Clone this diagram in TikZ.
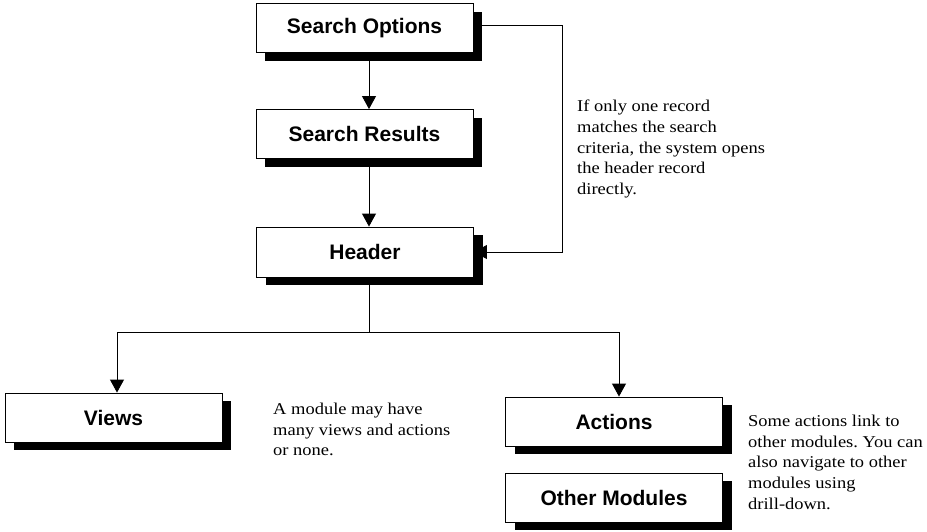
\documentclass[tikz,border=0pt]{standalone}
\usepackage{fontspec}
\setmainfont{Liberation Serif}[FakeStretch=1.12]
\newfontfamily\boxfont{Liberation Sans}
\usetikzlibrary{arrows.meta,shadows}
\frenchspacing
\begin{document}
\begin{tikzpicture}[x=1pt,y=-1pt,
  boxstyle/.style={draw=black, line width=0.9pt, fill=white, inner sep=0pt,
    minimum width=217pt, minimum height=49pt,
    font=\boxfont\bfseries\fontsize{21}{24}\selectfont,
    drop shadow={shadow xshift=9pt, shadow yshift=-8pt, fill=black, opacity=1}},
  note/.style={anchor=north west, inner sep=0pt, align=left,
    font=\frenchspacing\fontsize{16.5}{20.6}\selectfont},
  conn/.style={line width=0.9pt},
  arr/.style={conn, -{Triangle[length=13pt,width=14pt]}}]
\useasboundingbox (0,0) rectangle (927,531);
\node[boxstyle] (so) at (364.5,28) {Search Options};
\node[boxstyle] (sr) at (364.5,134) {Search Results};
\node[boxstyle, minimum height=50pt] (hd) at (365,252) {Header};
\node[boxstyle] (vw) at (113.5,417.5) {Views};
\node[boxstyle] (ac) at (614,421.5) {Actions};
\node[boxstyle] (om) at (614,497.5) {Other Modules};
\node[note] (n1) at (577,100) {If only one record\\matches the search\\criteria, the system opens\\the header record\\directly.};
\node[note] (n2) at (273,403) {A module may have\\many views and actions\\or none.};
\node[note] (n3) at (748,415) {Some actions link to\\other modules. You can\\also navigate to other\\modules using\\drill-down.};
\coordinate (rc) at (562,25);
\coordinate (jc) at (369,332);
\coordinate (jl) at (117,332);
\coordinate (jr) at (619,332);
\draw[arr] ([xshift=4.5pt]so.south) -- ([xshift=4.5pt]sr.north);
\draw[arr] ([xshift=4.5pt]sr.south) -- ([xshift=4pt]hd.north);
\draw[arr] (so.east |- rc) -- (rc) |- (hd.east);
\draw[conn] ([xshift=4pt]hd.south) -- (jc);
\draw[conn] (jl) -- (jr);
\draw[arr] (jl) -- (jl |- vw.north);
\draw[arr] (jr) -- (jr |- ac.north);
\end{tikzpicture}
\end{document}
